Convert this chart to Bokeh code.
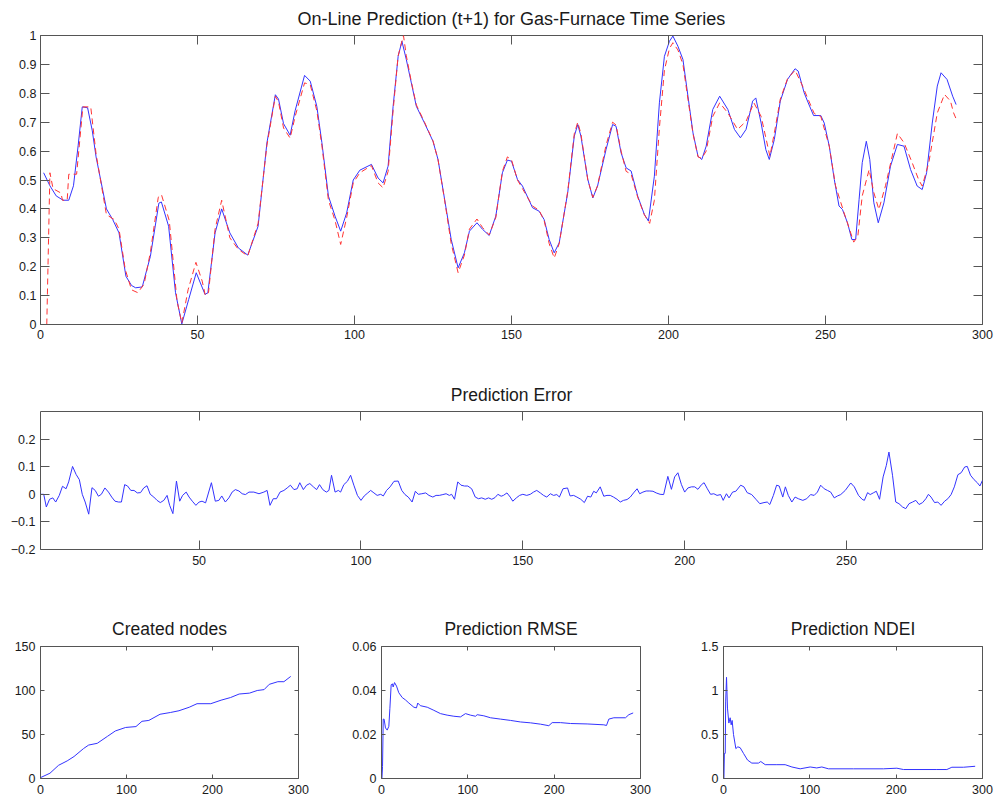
from bokeh.plotting import figure
from bokeh.layouts import column, row
from bokeh.models import FixedTicker, LinearAxis, Range1d
from bokeh.embed import file_html
from bokeh.resources import INLINE

FONT = "Liberation Sans"
AXC = "#555555"
TXT = "#1a1a1a"
BLUE = "#3333ff"
RED = "#ff3333"

# ---------------- data ----------------
actual_t = [1, 3, 5, 7.2, 9, 10.5, 12, 13.3, 15, 16.5, 17.7, 21, 23, 25, 27.2, 29, 30.3, 32.4, 35, 37.7,
            38.5, 40.8, 43, 45, 47.2, 49.6, 52.4, 53.3, 55.6, 57.7, 60.3, 63, 66, 69.3, 72.1, 74.8,
            75.8, 77.4, 79.5, 81.1, 84.1, 85.9, 88, 89.6, 91.7, 93.8, 95.6, 97.5, 99.6, 101.7, 105.4,
            107.5, 109.1, 110.7, 112.3, 113.9, 115.1, 116.5, 118.1, 119.7, 122.3, 125, 126.6, 128.7,
            130.8, 133, 135, 136.6, 139, 140.8, 142.9, 145, 147.1, 148.7, 150, 151.9, 153.5, 156.7,
            158.8, 160.4, 162, 163.6, 165.2, 167.9, 170, 171.1, 172.1, 174.3, 175.9, 177.4, 180.1,
            182.2, 183.3, 184.9, 186.5, 188.1, 190.2, 192.3, 193.6, 195.5, 197.1, 198.7, 200.3, 201.4,
            203, 204.6, 206.2, 207.8, 209.4, 210.6, 212, 214.1, 216.3, 218.9, 221, 222.9, 224.7,
            226.8, 227.8, 229.5, 231, 232.1, 233.7, 235.6, 237.9, 240.3, 241.3, 243.2, 244.5, 246.2,
            248.5, 249.6, 251.2, 252.8, 254.3, 255.4, 257, 258.4, 259.6, 260.7, 261.7, 263, 264.1,
            265.4, 266.8, 268.6, 270.7, 272.9, 275, 277.1, 279.2, 280.8, 282.2, 284, 285.6, 286.8,
            288.7, 290.5, 291.6]
actual_v = [0.525, 0.48, 0.445, 0.43, 0.43, 0.48, 0.62, 0.753, 0.75, 0.67, 0.58, 0.40, 0.363, 0.317,
            0.167, 0.135, 0.127, 0.13, 0.236, 0.42, 0.424, 0.34, 0.11, 0.002, 0.087, 0.179, 0.104,
            0.11, 0.317, 0.40, 0.317, 0.265, 0.24, 0.34, 0.628, 0.795, 0.78, 0.695, 0.655, 0.74,
            0.862, 0.842, 0.755, 0.63, 0.444, 0.375, 0.323, 0.386, 0.50, 0.534, 0.554, 0.507, 0.49,
            0.548, 0.755, 0.928, 0.98, 0.917, 0.836, 0.755, 0.697, 0.634, 0.571, 0.433, 0.294, 0.196,
            0.248, 0.323, 0.352, 0.329, 0.308, 0.375, 0.525, 0.569, 0.565, 0.502, 0.479, 0.404,
            0.392, 0.363, 0.294, 0.248, 0.283, 0.456, 0.652, 0.692, 0.652, 0.502, 0.438, 0.479,
            0.605, 0.692, 0.686, 0.594, 0.542, 0.531, 0.444, 0.381, 0.358, 0.513, 0.767, 0.928,
            0.98, 0.998, 0.963, 0.917, 0.79, 0.663, 0.582, 0.571, 0.617, 0.744, 0.79, 0.744, 0.675,
            0.646, 0.675, 0.773, 0.784, 0.697, 0.605, 0.571, 0.64, 0.773, 0.848, 0.885, 0.877,
            0.802, 0.767, 0.723, 0.723, 0.697, 0.617, 0.502, 0.41, 0.398, 0.352, 0.294, 0.294,
            0.433, 0.56, 0.634, 0.571, 0.421, 0.352, 0.421, 0.548, 0.623, 0.617, 0.536, 0.479,
            0.467, 0.525, 0.697, 0.825, 0.871, 0.848, 0.79, 0.761]

pred_t = [2, 3, 4, 6.5, 7, 8.5, 9, 11.5, 13.5, 16, 17.7, 21, 23.5, 25, 27, 29, 31, 33, 35, 37.5,
          38.5, 41, 43.5, 45, 47, 49.5, 51.5, 52.5, 53.5, 55.6, 57.7, 60.3, 63, 66, 69.3, 72.1,
          74.8, 75.8, 77.4, 79.5, 81.1, 84.1, 85.9, 88, 89.6, 91.7, 93.8, 95.6, 97.5, 99.6, 101.7,
          105.4, 107.5, 109.1, 110.7, 112.3, 113.9, 115.6, 116.5, 118.1, 119.7, 122.3, 125, 126.6,
          128.7, 130.8, 133, 135, 136.6, 139, 140.8, 142.9, 145, 147.1, 148.7, 150, 151.9, 153.5,
          156.7, 158.8, 160.4, 162, 163.6, 165.2, 167.9, 170, 171.1, 172.1, 174.3, 175.9, 177.4,
          180.1, 182.2, 183.3, 184.9, 186.5, 188.1, 190.2, 192.3, 194, 195.5, 197.1, 198.7, 200.3,
          201.4, 203, 204.6, 206.2, 207.8, 209.4, 210.6, 212, 214.1, 216.3, 218.9, 222, 224.7,
          227.2, 229.5, 232.3, 234, 235.6, 237.9, 240.3, 242.5, 246.4, 248.5, 251.2, 253.2, 255.8,
          259, 260.3, 261.7, 263.9, 265.4, 267, 269.1, 272.9, 275, 277.6, 279.7, 280.8, 282.9,
          285.6, 287.9, 289.8, 290.8, 291.7]
pred_v = [0.0, 0.525, 0.47, 0.455, 0.43, 0.43, 0.52, 0.52, 0.753, 0.753, 0.59, 0.38, 0.363, 0.33,
          0.19, 0.12, 0.11, 0.14, 0.25, 0.44, 0.45, 0.36, 0.08, 0.005, 0.12, 0.215, 0.15, 0.1,
          0.11, 0.33, 0.43, 0.30, 0.26, 0.237, 0.35, 0.62, 0.79, 0.77, 0.68, 0.645, 0.72, 0.836,
          0.83, 0.74, 0.62, 0.43, 0.36, 0.277, 0.37, 0.49, 0.525, 0.55, 0.49, 0.473, 0.53, 0.74,
          0.93, 1.0, 0.93, 0.84, 0.76, 0.70, 0.635, 0.57, 0.43, 0.28, 0.179, 0.24, 0.33, 0.365,
          0.335, 0.31, 0.37, 0.53, 0.58, 0.57, 0.50, 0.47, 0.41, 0.395, 0.36, 0.28, 0.23, 0.28,
          0.46, 0.66, 0.70, 0.66, 0.50, 0.44, 0.48, 0.62, 0.70, 0.69, 0.60, 0.53, 0.52, 0.44, 0.38,
          0.35, 0.43, 0.68, 0.88, 0.955, 0.975, 0.95, 0.90, 0.78, 0.66, 0.58, 0.575, 0.60, 0.72,
          0.767, 0.732, 0.675, 0.703, 0.767, 0.72, 0.582, 0.68, 0.78, 0.85, 0.88, 0.83, 0.73,
          0.72, 0.617, 0.48, 0.39, 0.285, 0.306, 0.445, 0.536, 0.456, 0.398, 0.48, 0.661, 0.629,
          0.56, 0.50, 0.479, 0.56, 0.732, 0.796, 0.773, 0.732, 0.709]

err_t = [1.1, 2, 2.8, 3.8, 4.8, 5.7, 6.8, 7.8, 8.9, 9.7, 10.9, 12, 13, 13.9, 14.8, 15.9, 16.9, 17.9,
         18.9, 19.8, 20.9, 22, 23, 24, 25.1, 26, 27, 27.9, 28.9, 29.9, 30.9, 31.9, 32.9, 33.9,
         34.9, 36, 37, 38, 39.1, 40.1, 40.9, 41.9, 43, 44, 44.9, 46, 46.9, 47.9, 49, 50, 50.9, 52,
         53.8, 55, 56.1, 57, 58.1, 59.2, 60.2, 61.2, 62.3, 63.3, 64.3, 65.4, 66.9, 68.5, 70, 71,
         71.9, 72.9, 73.9, 75, 76.2, 77.2, 78.2, 79.3, 80.3, 81.1, 82.2, 83.2, 84.2, 85.3, 86.3,
         87.2, 88.2, 89.3, 90.1, 90.9, 92, 93, 93.7, 94.7, 95.8, 96.8, 97.8, 98.9, 100, 101, 102.1,
         103, 104, 105, 106.1, 106.9, 107.9, 109, 110.2, 111.5, 112.6, 113.6, 114.6, 115.8, 116.8,
         117.7, 118.8, 120, 121, 122.2, 123.2, 124.2, 125.3, 126.3, 127.3, 128, 128.9, 129.9,
         130.9, 132, 133, 134.2, 135.3, 136.3, 137.3, 138.4, 139.4, 140.4, 141.4, 142.3, 143.3,
         144, 145.1, 146.1, 146.9, 148, 149, 150, 151.2, 152.3, 153.3, 154.3, 155.4, 156.4,
         157.4, 158.5, 159.5, 160.5, 161.3, 162.4, 163.8, 164.6, 165.7, 166.7, 167.9, 169, 170,
         171, 171.9, 172.7, 173.9, 175, 176, 177, 178, 179.1, 180.1, 181.1, 182.2, 183.2, 184.2,
         185.3, 186.1, 187.1, 188.1, 189.2, 190.2, 191.2, 192.4, 193.5, 194.8, 195.9, 196.9,
         197.9, 199, 200, 201, 202.1, 203.1, 204.1, 205.2, 206, 207, 208, 209, 210, 211.1, 211.9,
         212.9, 213.7, 214.8, 215.8, 217.3, 218.3, 219.3, 220.7, 222, 223.2, 224.5, 225.5, 226.3,
         227.4, 228.4, 229.2, 230.3, 231.1, 232, 233.1, 234.1, 235.1, 236.5, 237.7, 238.9, 240,
         241, 242, 243.1, 244.1, 245.1, 246.2, 247.2, 248.2, 249.6, 250.6, 251.3, 252.4, 253.7,
         254.8, 255.5, 256.5, 257.3, 258.4, 259.2, 260.2, 261.3, 262.3, 263.1, 264.2, 265.2,
         266.2, 267.3, 268.3, 269.3, 270.4, 271.4, 272.4, 273.5, 274.5, 275.3, 276.1, 277.2,
         278.2, 279.2, 280.3, 281.3, 282.3, 283.3, 284.4, 285.4, 286.5, 287.3, 288.3, 289.4,
         290.4, 291.2, 292]
err_v = [0.0, 0.0, -0.046, -0.018, -0.013, -0.028, -0.004, 0.029, 0.02, 0.045, 0.101, 0.072, 0.053,
         0.0, -0.028, -0.072, 0.024, 0.014, -0.007, 0.0, 0.023, 0.008, -0.01, -0.025, -0.028,
         -0.028, 0.035, 0.03, 0.014, 0.014, 0.005, 0.006, 0.023, 0.031, 0.0, -0.01, -0.022, -0.03,
         -0.022, -0.004, -0.04, -0.07, 0.048, -0.025, -0.004, 0.008, -0.01, -0.025, -0.04, -0.028,
         -0.025, -0.031, 0.042, -0.025, -0.022, -0.006, -0.028, -0.013, 0.008, 0.017, 0.012,
         0.002, -0.001, 0.008, 0.008, 0.002, 0.008, 0.014, -0.04, -0.016, -0.016, 0.008, 0.014,
         0.023, 0.033, 0.017, 0.02, 0.042, 0.017, 0.033, 0.039, 0.027, 0.017, 0.035, 0.017, 0.008,
         0.014, 0.069, 0.008, 0.014, 0.008, 0.035, 0.047, 0.069, 0.033, -0.004, -0.022, -0.006,
         0.005, 0.014, 0.005, -0.004, 0.0, -0.006, 0.014, 0.027, 0.047, 0.048, 0.014, -0.001,
         -0.01, -0.028, 0.011, 0.0, 0.002, 0.005, -0.004, -0.01, -0.004, -0.004, -0.001, 0.002,
         -0.004, 0.0, -0.018, 0.045, 0.033, 0.03, 0.03, 0.02, -0.01, -0.016, -0.013, -0.018,
         -0.013, -0.018, -0.012, 0.0, -0.007, -0.004, 0.005, -0.01, -0.025, -0.013, -0.004, 0.0,
         -0.004, 0.0, 0.008, 0.014, 0.005, -0.004, -0.01, 0.002, -0.004, -0.001, -0.01, 0.02,
         0.023, -0.006, -0.004, -0.01, -0.018, -0.03, -0.007, -0.01, 0.011, 0.005, 0.027, -0.007,
         -0.004, -0.004, -0.01, -0.018, -0.028, -0.022, -0.019, -0.01, 0.005, 0.02, 0.002, 0.008,
         0.012, 0.012, 0.011, 0.005, 0.0, -0.001, 0.065, 0.018, 0.063, 0.078, 0.035, 0.008, 0.023,
         0.027, 0.027, 0.018, 0.035, 0.042, 0.02, 0.0, 0.002, -0.004, -0.001, -0.022, 0.002,
         -0.013, 0.008, 0.011, 0.033, 0.027, 0.006, -0.001, -0.018, -0.034, -0.03, -0.028, -0.037,
         -0.004, 0.033, 0.03, -0.01, 0.027, -0.004, -0.028, -0.01, -0.016, -0.022, -0.016, -0.001,
         -0.004, 0.008, 0.033, 0.02, 0.014, 0.008, -0.013, -0.006, -0.001, 0.014, 0.03, 0.041,
         0.027, -0.004, -0.018, -0.022, 0.006, -0.001, 0.006, 0.011, -0.018, 0.063, 0.105, 0.153,
         0.069, -0.028, -0.034, -0.046, -0.052, -0.034, -0.028, -0.022, -0.037, -0.03, -0.016,
         0.0, -0.01, -0.03, -0.028, -0.04, -0.025, -0.016, -0.001, 0.027, 0.071, 0.078, 0.099,
         0.101, 0.069, 0.053, 0.042, 0.03, 0.051]

nodes_t = [0, 11, 21, 31, 39, 50, 56, 66, 78, 87, 99, 111, 118, 126, 139, 151, 161, 173, 182, 198,
           210, 221, 231, 243, 252, 260, 266, 276, 283, 291]
nodes_v = [1, 6, 15, 20, 25, 34, 38, 40, 48, 54, 58, 59, 65, 66, 73, 75, 77, 81, 85, 85, 89, 92,
           96, 97, 100, 101, 107, 110, 110, 116]

rmse_t = [0.5, 1.2, 2, 3, 4.6, 6.6, 8.5, 9.7, 11.2, 12.7, 13.5, 15.1, 17.4, 20, 24, 27.8, 31.7, 37.5,
          40.5, 42, 45, 53, 60.6, 68.3, 76, 83.8, 91.5, 97.3, 103, 108.9, 110.8, 118.5, 126.3,
          137.8, 149.4, 161, 172.6, 184.2, 193.8, 197.7, 207.3, 219, 238.2, 257.5, 260.6, 263.3,
          269.1, 282.6, 286.5, 291.5]
rmse_v = [0.0, 0.0055, 0.027, 0.027, 0.023, 0.022, 0.0237, 0.0317, 0.0426, 0.043, 0.0416, 0.0436,
          0.042, 0.039, 0.0368, 0.0357, 0.0343, 0.0324, 0.0321, 0.0343, 0.0331, 0.0324, 0.031,
          0.0295, 0.0288, 0.0283, 0.028, 0.0295, 0.0288, 0.0283, 0.029, 0.0285, 0.0276, 0.027,
          0.0264, 0.0257, 0.0253, 0.0247, 0.024, 0.0254, 0.0254, 0.025, 0.0248, 0.0244, 0.0241,
          0.027, 0.0276, 0.0276, 0.029, 0.0298]

ndei_t = [0.5, 1, 2, 2.5, 3.5, 4.6, 6.2, 7.7, 8.9, 10, 11.6, 14.3, 16.6, 19.3, 23.2, 27.8, 32.8,
          40.5, 43.2, 48.3, 61.8, 71.4, 79.2, 88.8, 100.4, 108, 113.9, 121.6, 150.6, 185.3, 200.8,
          208.5, 247.1, 258.7, 264.5, 278, 291.5]
ndei_v = [0.0, 0.285, 0.285, 0.87, 1.15, 0.8, 0.63, 0.69, 0.61, 0.66, 0.5, 0.34, 0.36, 0.35, 0.285,
          0.21, 0.175, 0.175, 0.193, 0.157, 0.157, 0.157, 0.131, 0.11, 0.131, 0.12, 0.131, 0.11,
          0.11, 0.11, 0.117, 0.102, 0.102, 0.102, 0.128, 0.128, 0.139]

# ticks and tick labels
top_xticks = [0, 50, 100, 150, 200, 250, 300]
top_xlabels = ["0", "50", "100", "150", "200", "250", "300"]
top_yticks = [0, 0.1, 0.2, 0.3, 0.4, 0.5, 0.6, 0.7, 0.8, 0.9, 1]
top_ylabels = ["0", "0.1", "0.2", "0.3", "0.4", "0.5", "0.6", "0.7", "0.8", "0.9", "1"]
err_xticks = [50, 100, 150, 200, 250]
err_xlabels = ["50", "100", "150", "200", "250"]
err_yticks = [-0.2, -0.1, 0, 0.1, 0.2]
err_ylabels = ["\u22120.2", "\u22120.1", "0", "0.1", "0.2"]
bot_xticks = [0, 100, 200, 300]
bot_xlabels = ["0", "100", "200", "300"]
nodes_yticks = [0, 50, 100, 150]
nodes_ylabels = ["0", "50", "100", "150"]
rmse_yticks = [0, 0.02, 0.04, 0.06]
rmse_ylabels = ["0", "0.02", "0.04", "0.06"]
ndei_yticks = [0, 0.5, 1, 1.5]
ndei_ylabels = ["0", "0.5", "1", "1.5"]


def make(title, w, h, bl, br, bt, bb, xr, yr, xt, xl, yt, yl, tick, tsize, tstand, xstand, ystand):
    p = figure(width=w, height=h, x_range=Range1d(*xr), y_range=Range1d(*yr),
               output_backend="svg", toolbar_location=None,
               x_axis_location=None, y_axis_location=None,
               min_border_left=bl, min_border_right=br, min_border_top=bt, min_border_bottom=bb)
    p.grid.visible = False
    p.outline_line_color = AXC
    p.outline_line_width = 1
    p.background_fill_color = "white"
    p.border_fill_color = "white"
    for loc in ("below", "above", "left", "right"):
        isx = loc in ("below", "above")
        ticks = xt if isx else yt
        labels = xl if isx else yl
        ax = LinearAxis(ticker=FixedTicker(ticks=ticks, minor_ticks=[]))
        ax.axis_line_color = None
        ax.major_tick_line_color = AXC
        ax.major_tick_in = tick
        ax.major_tick_out = 0
        ax.minor_tick_line_color = None
        if loc in ("below", "left"):
            ax.major_label_overrides = dict(zip(ticks, labels))
            ax.major_label_text_font = FONT
            ax.major_label_text_font_size = "12.5px"
            ax.major_label_text_color = TXT
            ax.major_label_standoff = xstand if isx else ystand
        else:
            ax.major_label_overrides = {t: "" for t in ticks}
            ax.major_label_text_font_size = "0px"
            ax.major_label_standoff = 0
        p.add_layout(ax, loc)
    p.title.text = title
    p.title.align = "center"
    p.title.text_font = FONT
    p.title.text_font_size = tsize
    p.title.text_font_style = "normal"
    p.title.text_color = TXT
    p.title.standoff = tstand
    return p


top = make("On-Line Prediction (t+1) for Gas-Furnace Time Series", 995, 360, 37, 13, 34, 36,
           (0, 300), (0, 1), top_xticks, top_xlabels, top_yticks, top_ylabels, 9, "18px", 13, 5, 4)
top.line(actual_t, actual_v, line_color=BLUE, line_width=1)
top.line(pred_t, pred_v, line_color=RED, line_width=1, line_dash="6 4")

mid = make("Prediction Error", 995, 230, 40, 12, 51, 41,
           (1, 292), (-0.2, 0.3), err_xticks, err_xlabels, err_yticks, err_ylabels, 9, "17.5px", 14, 6, 5)
mid.line(err_t, err_v, line_color=BLUE, line_width=1)

b1 = make("Created nodes", 330, 213, 40, 32, 56, 21,
          (0, 300), (0, 150), bot_xticks, bot_xlabels, nodes_yticks, nodes_ylabels, 4, "17.5px", 15, 6, 5)
b1.line(nodes_t, nodes_v, line_color=BLUE, line_width=1)

b2 = make("Prediction RMSE", 360, 213, 51, 50, 53, 22,
          (0, 300), (0, 0.06), bot_xticks, bot_xlabels, rmse_yticks, rmse_ylabels, 4, "17.5px", 15, 6, 5)
b2.line(rmse_t, rmse_v, line_color=BLUE, line_width=1)

b3 = make("Prediction NDEI", 305, 213, 33, 13, 51, 25,
          (0, 300), (0, 1.5), bot_xticks, bot_xlabels, ndei_yticks, ndei_ylabels, 4, "17.5px", 15, 6, 5)
b3.line(ndei_t, ndei_v, line_color=BLUE, line_width=1)

layout = column(top, mid, row(b1, b2, b3))
open("out.html", "w").write(file_html(layout, INLINE))
